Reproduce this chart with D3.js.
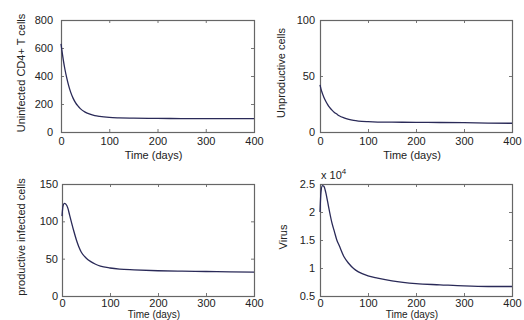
<!DOCTYPE html>
<html>
<head>
<meta charset="utf-8">
<script src="https://cdn.jsdelivr.net/npm/d3@7"></script>
<style>
  body { margin: 0; background: #fff; }
  svg text { font-family: "Liberation Sans", Arial, sans-serif; fill: #222; }
</style>
</head>
<body>
<div id="viz"></div>
<script>
"use strict";

// time points (days)
const days = [0, 2, 5, 8, 12, 16, 20, 25, 30, 35, 40, 50, 60, 70, 80, 100, 120, 150, 200, 250, 300, 350, 400];

// uninfected CD4+ T cells
const uninfected = [630, 580, 510, 450, 385, 330, 285, 242, 210, 186, 167, 142, 127, 117, 111, 104, 101, 99, 97, 96, 95, 95, 95];
// unproductive cells
const unproductive = [42, 38.5, 34.5, 31, 27.5, 24.5, 22, 19.5, 17.5, 16, 14.5, 12.6, 11.3, 10.4, 9.8, 9.2, 8.9, 8.8, 8.6, 8.5, 8.3, 8.0, 7.8];
// productive infected cells
const productive = [107, 120, 124, 123, 118, 108, 98, 86, 75, 66, 59, 51, 46, 42.5, 40, 37.5, 36, 35, 33.8, 33.2, 32.8, 32.3, 32];
// virus
const virus = [20000, 23500, 24700, 24600, 23500, 21800, 20000, 18000, 16500, 15000, 14000, 12000, 10800, 9900, 9300, 8600, 8200, 7700, 7200, 7000, 6800, 6700, 6700];

const xTicks = [0, 100, 200, 300, 400];

const panels = [
  { values: uninfected, yDomain: [0, 800], yTicks: [0, 200, 400, 600, 800], pad: 8, xpad: 5,
    ylabel: "Uninfected CD4+ T cells", x0: 61, x1: 254, y0: 20, y1: 132, labelX: 21, xlabelY: 159, xlabelSize: 11 },
  { values: unproductive, yDomain: [0, 100], yTicks: [0, 50, 100], pad: 5, xpad: 5,
    ylabel: "Unproductive cells", x0: 320, x1: 512, y0: 20, y1: 132, labelX: 281, xlabelY: 159, xlabelSize: 11 },
  { values: productive, yDomain: [0, 150], yTicks: [0, 50, 100, 150], pad: 4, xpad: 3,
    ylabel: "productive infected cells", x0: 62, x1: 254, y0: 184, y1: 296, labelX: 21, xlabelY: 317.5, xlabelSize: 10 },
  { values: virus, yDomain: [5000, 25000], yTicks: [5000, 10000, 15000, 20000, 25000], pad: 5, xpad: 3,
    ylabel: "Virus", x0: 320, x1: 512, y0: 184, y1: 296, labelX: 283, xlabelY: 317.5, xlabelSize: 10, exponent: true }
];

let svg = d3.select("#viz")
            .append("svg")
            .attr("width", 524)
            .attr("height", 320);

panels.forEach(p => {
  let xScale = d3.scaleLinear().domain([0, 400]).range([p.x0, p.x1]);
  let yScale = d3.scaleLinear().domain(p.yDomain).range([p.y1, p.y0]);
  let fmt = p.exponent ? (d => d3.format("~g")(d / 1e4)) : d3.format("d");

  let g = svg.append("g");

  // bottom axis
  g.append("g")
   .attr("transform", `translate(0,${p.y1})`)
   .call(d3.axisBottom(xScale).tickValues(xTicks).tickSizeInner(-3).tickSizeOuter(0).tickPadding(p.xpad))
   .call(a => a.select(".domain").remove());
  // top ticks
  g.append("g")
   .attr("transform", `translate(0,${p.y0})`)
   .call(d3.axisTop(xScale).tickValues(xTicks).tickSizeInner(-3).tickSizeOuter(0).tickFormat(""))
   .call(a => a.select(".domain").remove());
  // left axis
  g.append("g")
   .attr("transform", `translate(${p.x0},0)`)
   .call(d3.axisLeft(yScale).tickValues(p.yTicks).tickFormat(fmt).tickSizeInner(-3).tickSizeOuter(0).tickPadding(p.pad))
   .call(a => a.select(".domain").remove());
  // right ticks
  g.append("g")
   .attr("transform", `translate(${p.x1},0)`)
   .call(d3.axisRight(yScale).tickValues(p.yTicks).tickSizeInner(-3).tickSizeOuter(0).tickFormat(""))
   .call(a => a.select(".domain").remove());

  g.selectAll(".tick line").attr("stroke", "#777");
  g.selectAll(".tick text")
   .attr("font-size", "11px")
   .attr("font-family", "Liberation Sans, Arial, sans-serif")
   .attr("fill", "#222");

  // box
  g.append("rect")
   .attr("x", p.x0 + 0.5)
   .attr("y", p.y0 + 0.5)
   .attr("width", p.x1 - p.x0)
   .attr("height", p.y1 - p.y0)
   .attr("fill", "none")
   .attr("stroke", "#666")
   .attr("stroke-width", 1.2);

  // curve
  let line = d3.line()
               .x((d, i) => xScale(days[i]))
               .y(d => yScale(d))
               .curve(d3.curveMonotoneX);
  g.append("path")
   .datum(p.values)
   .attr("d", line)
   .attr("fill", "none")
   .attr("stroke", "#2a2a58")
   .attr("stroke-width", 1.3);

  // labels
  g.append("text")
   .attr("x", (p.x0 + p.x1) / 2 - 4)
   .attr("y", p.xlabelY)
   .attr("text-anchor", "middle")
   .attr("font-size", p.xlabelSize + "px")
   .text("Time (days)");

  g.append("text")
   .attr("transform", `translate(${p.labelX + 4},${(p.y0 + p.y1) / 2 - 3}) rotate(-90)`)
   .attr("text-anchor", "middle")
   .attr("font-size", "11px")
   .text(p.ylabel);

  if (p.exponent) {
    let t = g.append("text")
             .attr("x", p.x0 + 1)
             .attr("y", p.y0 - 5)
             .attr("font-size", "11px");
    t.append("tspan").text("x 10");
    t.append("tspan").attr("dy", -5).attr("font-size", "8px").text("4");
  }
});
</script>
</body>
</html>
